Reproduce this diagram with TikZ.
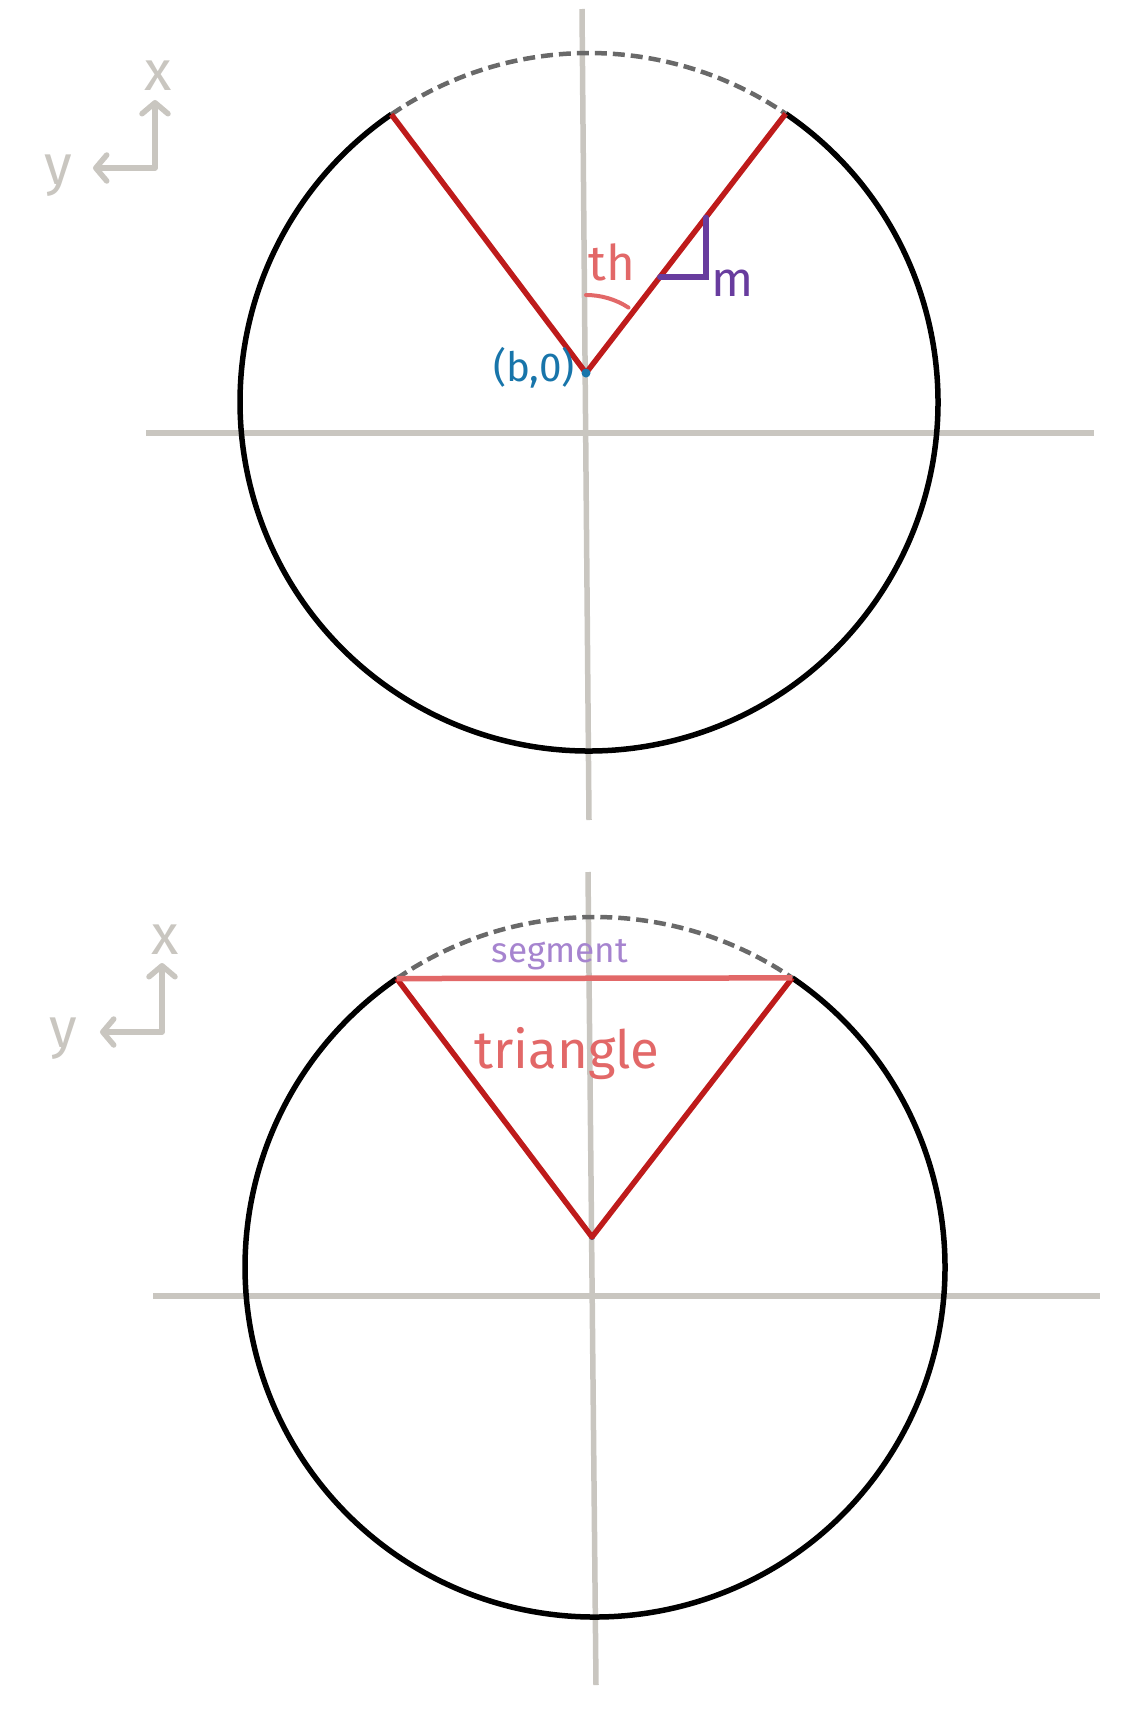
\documentclass[tikz,border=0pt]{standalone}
\usepackage{fontspec}
\setmainfont{Fira Sans}
\usetikzlibrary{arrows.meta, calc}
\definecolor{axisgray}{RGB}{201,198,192}
\definecolor{dashgray}{RGB}{105,105,105}
\definecolor{raycolor}{RGB}{190,27,27}
\definecolor{salmon}{RGB}{226,104,104}
\definecolor{markpurple}{RGB}{104,60,158}
\definecolor{lavender}{RGB}{166,132,207}
\definecolor{dotblue}{RGB}{24,117,170}

\begin{document}
\begin{tikzpicture}[x=0.1mm, y=-0.1mm,
    axisline/.style={draw=axisgray, line width=0.55mm},
    rim/.style={draw=black, line width=0.55mm},
    hidden/.style={draw=dashgray, line width=0.45mm, dash pattern=on 1.2mm off 0.6mm},
    ray/.style={draw=raycolor, line width=0.55mm, line join=round},
    chord/.style={draw=salmon, line width=0.55mm},
    thmark/.style={draw=salmon, line width=0.4mm, line cap=round},
    rightmark/.style={draw=markpurple, line width=0.55mm, line cap=round},
    frame/.style={draw=axisgray, line width=0.55mm, line cap=round, line join=round,
        {Straight Barb[length=1.1mm, width=2.6mm, round]}-{Straight Barb[length=1.1mm, width=2.6mm, round]}},
    lbl/.style={inner sep=0pt, font=\fontsize{14}{16}\selectfont}
]
    \useasboundingbox (0,0) rectangle (1126,1736);

    % Top view
    \coordinate (c1) at (589,402);
    \coordinate (apex1) at (586,373);
    \coordinate (tl1) at ($(c1)+(-124.5:349)$);
    \coordinate (tr1) at ($(c1)+(-55.7:349)$);

    \draw[axisline] (582,9) -- (589,820);
    \draw[axisline] (146,433) -- (1094,433);
    \draw[rim] (tr1) arc[start angle=-55.7, end angle=235.5, radius=349];
    \draw[hidden] (tl1) arc[start angle=-124.5, end angle=-55.7, radius=349];
    \draw[ray] (tl1) -- (apex1) -- (tr1);
    \fill[dotblue] (apex1) circle[radius=4.5];

    % Angle and right angle
    \draw[thmark] ($(apex1)+(-90:78)$) arc[start angle=-90, end angle=-57, radius=78];
    \coordinate (m1) at ($(apex1)!0.6!(tr1)$);
    \coordinate (m2) at ($(apex1)!0.37!(tr1)$);
    \draw[rightmark] (m1) |- (m2);

    % Labels
    \node[lbl, text=salmon] (th) at (612,262) {th};
    \node[lbl, text=markpurple] (mlbl) at (733,283) {m};
    \node[lbl, text=dotblue, font=\fontsize{11.5}{13}\selectfont] (pt) at (534,368) {(b,0)};

    % Axes icon
    \coordinate (f1) at (155,168);
    \draw[frame] (155,100) -- (f1) -- (93,168);
    \node[lbl, text=axisgray, font=\fontsize{16}{18}\selectfont] (x1) at (158,76) {x};
    \node[lbl, text=axisgray, font=\fontsize{16}{18}\selectfont] (y1) at (58,176) {y};

    % Bottom view
    \coordinate (c2) at (595,1267);
    \coordinate (apex2) at (592,1237);
    \coordinate (tl2) at ($(c2)+(-124.5:350)$);
    \coordinate (tr2) at ($(c2)+(-55.7:350)$);

    \draw[axisline] (588,872) -- (596,1685);
    \draw[axisline] (153,1296) -- (1100,1296);
    \draw[rim] (tr2) arc[start angle=-55.7, end angle=235.5, radius=350];
    \draw[hidden] (tl2) arc[start angle=-124.5, end angle=-55.7, radius=350];
    \fill[dotblue] (apex2) circle[radius=3];
    \draw[ray] (tl2) -- (apex2) -- (tr2);
    \draw[chord] (tl2) -- (tr2);

    % Labels
    \node[lbl, text=lavender, font=\fontsize{10}{12}\selectfont] (seg) at (560,955) {segment};
    \node[lbl, text=salmon, font=\fontsize{15}{17}\selectfont] (tri) at (567,1054) {triangle};

    % Axes icon
    \coordinate (f2) at (162,1032);
    \draw[frame] (162,963) -- (f2) -- (100,1032);
    \node[lbl, text=axisgray, font=\fontsize{16}{18}\selectfont] (x2) at (165,940) {x};
    \node[lbl, text=axisgray, font=\fontsize{16}{18}\selectfont] (y2) at (63,1039) {y};
\end{tikzpicture}
\end{document}
